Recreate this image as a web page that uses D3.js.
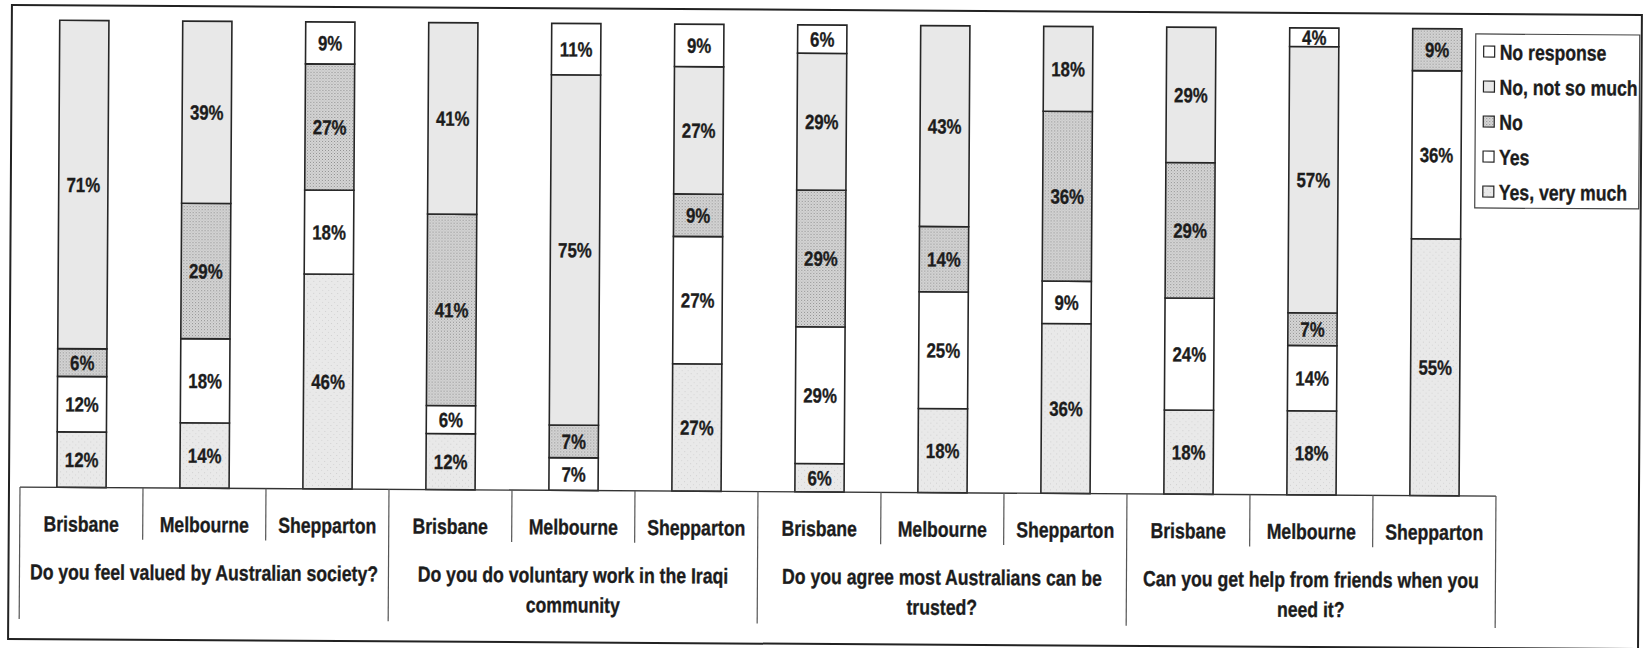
<!DOCTYPE html>
<html>
<head>
<meta charset="utf-8">
<script src="https://cdn.jsdelivr.net/npm/d3@7"></script>
<style>
  html, body { margin: 0; padding: 0; background: #fff; }
  svg { display: block; }
  text { font-family: 'Liberation Sans', Arial, sans-serif; font-weight: bold; fill: #1c1c1c;
         stroke: #1c1c1c; stroke-width: 0.35px; }
</style>
</head>
<body>
<svg id="chart" width="1650" height="648"></svg>
<script>
// Survey questions, three cities per question
const questions = [
  ["Do you feel valued by Australian society?"],
  ["Do you do voluntary work in the Iraqi", "community"],
  ["Do you agree most Australians can be", "trusted?"],
  ["Can you get help from friends when you", "need it?"]
];
const cities = ["Brisbane", "Melbourne", "Shepparton"];

// Answer shares (%), one entry per question × city, in the order above
const yesVeryMuch = [12, 14, 46, 12, 0, 27, 6, 18, 36, 18, 18, 55];
const yes         = [12, 18, 18, 6, 7, 27, 29, 25, 9, 24, 14, 36];
const no          = [6, 29, 27, 41, 7, 9, 29, 14, 36, 29, 7, 9];
const noNotSoMuch = [71, 39, 0, 41, 75, 27, 29, 43, 18, 29, 57, 0];
const noResponse  = [0, 0, 9, 0, 11, 9, 6, 0, 0, 0, 4, 0];

// Stack order: bottom to top
const seriesKeys = ["Yes, very much", "Yes", "No", "No, not so much", "No response"];
const seriesValues = [yesVeryMuch, yes, no, noNotSoMuch, noResponse];
const legendOrder = ["No response", "No, not so much", "No", "Yes", "Yes, very much"];

const rows = [];
questions.forEach((q, qi) => cities.forEach((c, ci) => {
  const i = qi * cities.length + ci;
  const row = { id: i, city: c, q: qi };
  seriesKeys.forEach((k, si) => row[k] = seriesValues[si][i]);
  rows.push(row);
}));

const svg = d3.select("#chart");
const defs = svg.append("defs");

// Dotted grey fill for "No"
const dotPat = defs.append("pattern").attr("id", "dots")
  .attr("patternUnits", "userSpaceOnUse").attr("width", 3).attr("height", 3);
dotPat.append("rect").attr("width", 3).attr("height", 3).attr("fill", "#d7d7d7");
dotPat.append("rect").attr("x", 0).attr("y", 0).attr("width", 1).attr("height", 1).attr("fill", "#8c8c8c");
dotPat.append("rect").attr("x", 1.5).attr("y", 1.5).attr("width", 1).attr("height", 1).attr("fill", "#a5a5a5");

// Faint speckle for "Yes, very much"
const speckPat = defs.append("pattern").attr("id", "speck")
  .attr("patternUnits", "userSpaceOnUse").attr("width", 6).attr("height", 6);
speckPat.append("rect").attr("width", 6).attr("height", 6).attr("fill", "#e9e9e9");
speckPat.append("rect").attr("x", 1).attr("y", 2).attr("width", 1).attr("height", 1).attr("fill", "#d0d0d0");
speckPat.append("rect").attr("x", 4).attr("y", 5).attr("width", 1).attr("height", 1).attr("fill", "#d6d6d6");

const fills = {
  "Yes, very much": "url(#speck)",
  "Yes": "#ffffff",
  "No": "url(#dots)",
  "No, not so much": "#e8e8e8",
  "No response": "#ffffff"
};

// Condensed bold text: placed by translate, narrowed horizontally
const NARROW = 0.82;
function narrowText(sel, px, py) {
  return sel.attr("x", 0).attr("y", 0)
    .attr("transform", (d, i) => `translate(${px(d, i)},${py(d, i)}) scale(${NARROW},1)`);
}

const W = 1650, H = 648;
// The whole figure sits at a slight tilt
const g = svg.append("g").attr("transform", `rotate(0.35, ${W / 2}, ${H / 2})`);

// Outer frame
g.append("rect").attr("x", 10).attr("y", 10).attr("width", 1630).attr("height", 634)
  .attr("fill", "none").attr("stroke", "#222").attr("stroke-width", 2);

const plotLeft = 21, plotRight = 1497, plotTop = 25, plotBottom = 492;

const x = d3.scaleBand().domain(rows.map(d => d.id)).range([plotLeft, plotRight])
  .paddingInner(0.6).paddingOuter(0.3);
const cell = d3.scaleBand().domain(rows.map(d => d.id)).range([plotLeft, plotRight]).padding(0);
const y = d3.scaleLinear().domain([0, 1]).range([plotBottom, plotTop]);

const stack = d3.stack().keys(seriesKeys).offset(d3.stackOffsetExpand);
const layers = stack(rows);

const layerG = g.selectAll("g.layer").data(layers).join("g").attr("class", "layer");
layerG.selectAll("rect")
  .data(L => L.map(d => ({ key: L.key, d })).filter(o => o.d.data[o.key] > 0))
  .join("rect")
  .attr("x", o => x(o.d.data.id))
  .attr("width", x.bandwidth())
  .attr("y", o => y(o.d[1]))
  .attr("height", o => y(o.d[0]) - y(o.d[1]))
  .attr("fill", o => fills[o.key])
  .attr("stroke", "#262626").attr("stroke-width", 1.6);

// Percentage labels centred in each segment
layerG.selectAll("text")
  .data(L => L.map(d => ({ key: L.key, d })).filter(o => o.d.data[o.key] > 0))
  .join("text")
  .call(narrowText,
    o => x(o.d.data.id) + x.bandwidth() / 2,
    o => (y(o.d[0]) + y(o.d[1])) / 2)
  .attr("dy", "0.36em")
  .attr("text-anchor", "middle")
  .attr("font-size", 20.5)
  .text(o => o.d.data[o.key] + "%");

// Category table below the bars
const tbl = g.append("g");
tbl.append("line").attr("x1", plotLeft).attr("x2", plotRight).attr("y1", plotBottom).attr("y2", plotBottom)
  .attr("stroke", "#333").attr("stroke-width", 1.4);
rows.forEach((r, i) => {
  const xl = cell(r.id);
  const isGroupEdge = i % cities.length === 0;
  tbl.append("line").attr("x1", xl).attr("x2", xl).attr("y1", plotBottom)
    .attr("y2", isGroupEdge ? 624 : 544)
    .attr("stroke", "#555").attr("stroke-width", 1.2);
});
tbl.append("line").attr("x1", plotRight).attr("x2", plotRight).attr("y1", plotBottom).attr("y2", 624)
  .attr("stroke", "#555").attr("stroke-width", 1.2);

tbl.selectAll("text.city").data(rows).join("text").attr("class", "city")
  .call(narrowText, d => cell(d.id) + cell.bandwidth() / 2, () => 536)
  .attr("text-anchor", "middle")
  .attr("font-size", 21.5)
  .text(d => d.city);

const titleLines = questions.flatMap((lines, qi) => lines.map((ln, li) => ({ ln, li, qi })));
tbl.selectAll("text.question").data(titleLines).join("text").attr("class", "question")
  .call(narrowText,
    d => cell(d.qi * cities.length) + cell.bandwidth() * cities.length / 2,
    d => 584 + d.li * 30)
  .attr("text-anchor", "middle")
  .attr("font-size", 21.5)
  .text(d => d.ln);

// Legend
const lg = g.append("g");
lg.append("rect").attr("x", 1474).attr("y", 30).attr("width", 164).attr("height", 174)
  .attr("fill", "#fff").attr("stroke", "#444").attr("stroke-width", 1.2);
lg.selectAll("rect.swatch").data(legendOrder).join("rect").attr("class", "swatch")
  .attr("x", 1482).attr("y", (k, i) => 42 + i * 35).attr("width", 11).attr("height", 11)
  .attr("fill", k => fills[k]).attr("stroke", "#222").attr("stroke-width", 1.2);
lg.selectAll("text").data(legendOrder).join("text")
  .call(narrowText, () => 1498, (k, i) => 48 + i * 35)
  .attr("dy", "0.36em")
  .attr("font-size", 21.5)
  .text(k => k);
</script>
</body>
</html>
